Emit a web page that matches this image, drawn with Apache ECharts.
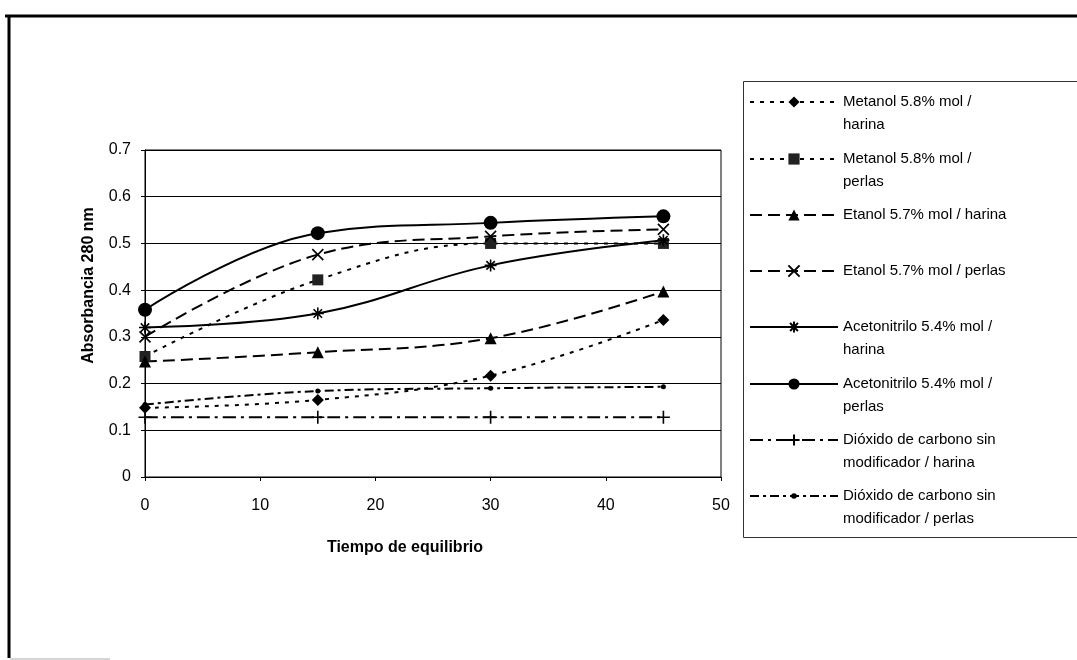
<!DOCTYPE html>
<html>
<head>
<meta charset="utf-8">
<script src="https://cdn.jsdelivr.net/npm/echarts@6/dist/echarts.min.js"></script>
<style>
html,body{margin:0;padding:0;background:#fff;}
#main{width:1077px;height:660px;}
</style>
</head>
<body>
<div id="main"></div>
<script>
// ---- data ----
const times = [0, 15, 30, 45];
const metanolHarina = [0.148, 0.165, 0.217, 0.336];
const metanolPerlas = [0.258, 0.422, 0.500, 0.500];
const etanolHarina = [0.247, 0.267, 0.297, 0.397];
const etanolPerlas = [0.300, 0.476, 0.515, 0.530];
const acetoHarina = [0.320, 0.350, 0.453, 0.507];
const acetoPerlas = [0.358, 0.522, 0.544, 0.558];
const co2Harina = [0.128, 0.128, 0.128, 0.128];
const co2Perlas = [0.155, 0.184, 0.190, 0.193];
const yTicks = [0, 0.1, 0.2, 0.3, 0.4, 0.5, 0.6, 0.7];
const xTicks = [0, 10, 20, 30, 40, 50];

const seriesNames = [
  'Metanol 5.8% mol / harina',
  'Metanol 5.8% mol / perlas',
  'Etanol 5.7% mol / harina',
  'Etanol 5.7% mol / perlas',
  'Acetonitrilo 5.4% mol / harina',
  'Acetonitrilo 5.4% mol / perlas',
  'Dióxido de carbono sin modificador / harina',
  'Dióxido de carbono sin modificador / perlas'
];
const legendLabels = [
  'Metanol 5.8% mol /\nharina',
  'Metanol 5.8% mol /\nperlas',
  'Etanol 5.7% mol / harina\n ',
  'Etanol 5.7% mol / perlas\n ',
  'Acetonitrilo 5.4% mol /\nharina',
  'Acetonitrilo 5.4% mol /\nperlas',
  'Dióxido de carbono sin\nmodificador / harina',
  'Dióxido de carbono sin\nmodificador / perlas'
];
const seriesValues = [metanolHarina, metanolPerlas, etanolHarina, etanolPerlas,
  acetoHarina, acetoPerlas, co2Harina, co2Perlas];

// ---- styles ----
const X_PATH = 'path://M0,0 L10,10 M10,0 L0,10';
const AST_PATH = 'path://M5,0 L5,10 M0,5 L10,5 M1.5,1.5 L8.5,8.5 M8.5,1.5 L1.5,8.5';
const PLUS_PATH = 'path://M5,0 L5,10 M1,5 L9,5';
const styles = [
  {symbol: 'diamond', size: 12, dash: [4, 6], stroke: false, color: '#000', legendH: 14},
  {symbol: 'rect', size: 11, dash: [4, 6], stroke: false, color: '#222', legendH: 14},
  {symbol: 'triangle', size: 12, dash: [12, 6], stroke: false, color: '#000', legendH: 14},
  {symbol: X_PATH, size: 11, dash: [12, 6], stroke: true, color: '#000', legendH: 14},
  {symbol: AST_PATH, size: 12, dash: 'solid', stroke: true, color: '#000', legendH: 14},
  {symbol: 'circle', size: 14, dash: 'solid', stroke: false, color: '#000', legendH: 14},
  {symbol: PLUS_PATH, size: 13, dash: [13, 5, 3, 5], stroke: true, color: '#000', legendH: 14},
  {symbol: 'circle', size: 5, dash: [9, 4, 3, 4], stroke: false, color: '#000', legendH: 7}
];

const series = seriesNames.map((name, i) => ({
  name: name,
  type: 'line',
  smooth: 0.4,
  data: times.map((t, j) => [t, seriesValues[i][j]]),
  symbol: styles[i].symbol,
  symbolSize: styles[i].size,
  showSymbol: true,
  lineStyle: {color: '#000', width: 2, type: styles[i].dash},
  itemStyle: styles[i].stroke
    ? {color: styles[i].color, borderColor: '#000', borderWidth: 1.6}
    : {color: styles[i].color, borderWidth: 0},
  emphasis: {disabled: true},
  z: 3
}));

const legendCenters = [102, 159, 215, 271, 327, 384, 440, 496];
const legends = seriesNames.map((name, i) => ({
  data: [name],
  orient: 'vertical',
  left: 749,
  top: legendCenters[i] - 34.5,
  padding: 0,
  itemWidth: 88,
  itemHeight: styles[i].legendH,
  selectedMode: false,
  formatter: () => ' \n' + legendLabels[i],
  textStyle: {fontFamily: 'Liberation Sans, Arial', fontSize: 15, lineHeight: 23, color: '#000'}
}));

const chart = echarts.init(document.getElementById('main'), null, {renderer: 'canvas'});
chart.setOption({
  animation: false,
  backgroundColor: '#fff',
  grid: {left: 145, right: 356, top: 150, bottom: 183, show: true, borderColor: '#000', borderWidth: 1, backgroundColor: 'transparent'},
  legend: legends,
  xAxis: {
    type: 'value', min: xTicks[0], max: xTicks[xTicks.length - 1], interval: 10,
    name: 'Tiempo de equilibrio', nameLocation: 'middle', nameGap: 63,
    nameTextStyle: {fontFamily: 'Liberation Sans, Arial', fontSize: 16, fontWeight: 'bold', color: '#000', padding: [0, 56, 0, 0]},
    axisLine: {show: true, lineStyle: {color: '#000', width: 1}},
    axisTick: {show: true, inside: false, length: 4, lineStyle: {color: '#000'}},
    axisLabel: {fontFamily: 'Liberation Sans, Arial', fontSize: 16, color: '#000', margin: 21},
    splitLine: {show: false}
  },
  yAxis: {
    type: 'value', min: yTicks[0], max: yTicks[yTicks.length - 1], interval: 0.1,
    name: 'Absorbancia 280 nm', nameLocation: 'middle', nameGap: 48, nameRotate: 90,
    nameTextStyle: {fontFamily: 'Liberation Sans, Arial', fontSize: 16, fontWeight: 'bold', color: '#000', padding: [0, 0, 0, 56]},
    axisLine: {show: true, lineStyle: {color: '#000', width: 1}},
    axisTick: {show: true, inside: false, length: 4, lineStyle: {color: '#000'}},
    axisLabel: {fontFamily: 'Liberation Sans, Arial', fontSize: 16, color: '#000', margin: 14,
      formatter: v => (Math.round(v * 10) / 10).toString()},
    splitLine: {show: true, lineStyle: {color: '#000', width: 1}}
  },
  graphic: [
    {type: 'line', shape: {x1: 5, y1: 16, x2: 1077, y2: 16}, style: {stroke: '#000', lineWidth: 3}, silent: true},
    {type: 'line', shape: {x1: 9, y1: 15, x2: 9, y2: 658}, style: {stroke: '#000', lineWidth: 3}, silent: true},
    {type: 'line', shape: {x1: 10, y1: 659, x2: 110, y2: 659}, style: {stroke: '#aaa', lineWidth: 1}, silent: true},
    {type: 'rect', shape: {x: 743.5, y: 81.5, width: 340, height: 456}, style: {fill: 'none', stroke: '#333', lineWidth: 1}, silent: true, z: -1}
  ],
  series: series
});
</script>
</body>
</html>
